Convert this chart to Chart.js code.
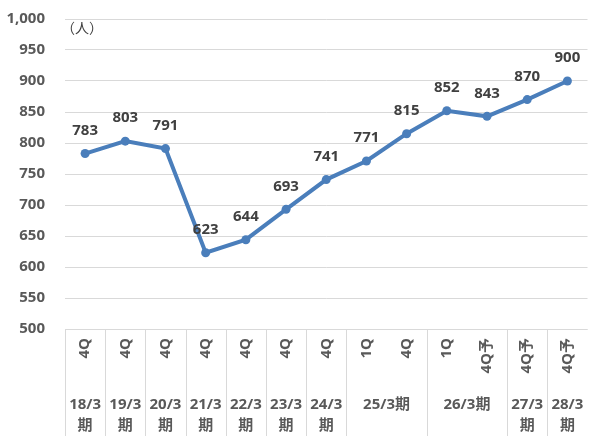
<!DOCTYPE html>
<html>
<head>
<meta charset="utf-8">
<script src="https://cdn.jsdelivr.net/npm/chart.js@4/dist/chart.umd.min.js"></script>
<style>
html, body { margin: 0; padding: 0; background: #fff; }
</style>
</head>
<body>
<canvas id="lineChart" width="592" height="436"></canvas>
<script>
const quarters = ['4Q', '4Q', '4Q', '4Q', '4Q', '4Q', '4Q', '1Q', '4Q', '1Q', '4Q予', '4Q予', '4Q予'];
const periods = ['18/3期', '19/3期', '20/3期', '21/3期', '22/3期', '23/3期', '24/3期', '25/3期', '26/3期', '27/3期', '28/3期'];
const periodSpans = [1, 1, 1, 1, 1, 1, 1, 2, 2, 1, 1];
const staffCounts = [783, 803, 791, 623, 644, 693, 741, 771, 815, 852, 843, 870, 900];

const lineChartOne = document.querySelector('#lineChart').getContext('2d');
const fontFamily = '"Open Sans", "Noto Sans CJK JP", sans-serif';
const lineBlue = '#4A7EBB';
const gridGray = '#d9d9d9';

// value labels above each point
const valueLabels = {
    id: 'valueLabels',
    afterDatasetsDraw(chart) {
        const ctx = chart.ctx;
        const meta = chart.getDatasetMeta(0);
        ctx.save();
        ctx.font = 'bold 15px ' + fontFamily;
        ctx.fillStyle = '#404040';
        ctx.textAlign = 'center';
        ctx.textBaseline = 'middle';
        meta.data.forEach((pt, i) => {
            ctx.fillText(chart.data.datasets[0].data[i], pt.x, pt.y - 23);
        });
        // unit label
        ctx.font = '14px ' + fontFamily;
        ctx.textAlign = 'left';
        ctx.fillText('（人）', chart.chartArea.left - 4, chart.chartArea.top + 10);
        ctx.restore();
    }
};

// two-row category axis: rotated quarters, then fiscal periods
const periodAxis = {
    id: 'periodAxis',
    afterDraw(chart) {
        const ctx = chart.ctx;
        const x = chart.scales.x;
        const area = chart.chartArea;
        const half = (x.getPixelForValue(1) - x.getPixelForValue(0)) / 2;
        const top = area.bottom;
        const bottom = chart.height;

        ctx.save();
        ctx.strokeStyle = gridGray;
        ctx.lineWidth = 1;
        ctx.beginPath();
        ctx.moveTo(area.left, top + 0.5);
        ctx.lineTo(area.right, top + 0.5);
        ctx.stroke();

        ctx.fillStyle = '#595959';
        ctx.font = 'bold 15px ' + fontFamily;
        quarters.forEach((q, i) => {
            const px = x.getPixelForValue(i);
            ctx.save();
            ctx.translate(px, top + 9);
            ctx.rotate(-Math.PI / 2);
            ctx.textAlign = 'right';
            ctx.textBaseline = 'middle';
            ctx.fillText(q, 0, 0);
            ctx.restore();
        });

        let start = 0;
        ctx.textAlign = 'center';
        ctx.textBaseline = 'middle';
        periods.forEach((p, j) => {
            const span = periodSpans[j];
            const l = x.getPixelForValue(start) - half;
            const r = x.getPixelForValue(start + span - 1) + half;
            ctx.beginPath();
            ctx.moveTo(Math.round(l) + 0.5, top);
            ctx.lineTo(Math.round(l) + 0.5, bottom);
            ctx.stroke();
            const cx = (l + r) / 2;
            if (span === 1) {
                ctx.fillText(p.slice(0, -1), cx, 405);
                ctx.fillText(p.slice(-1), cx, 426);
            } else {
                ctx.fillText(p, cx, 405);
            }
            start += span;
        });
        ctx.restore();
    }
};

let lineChart = new Chart(lineChartOne, {
    type: 'line',
    data: {
        labels: quarters.map((q, i) => i),
        datasets: [{
            label: '人数',
            data: staffCounts,
            borderColor: lineBlue,
            backgroundColor: lineBlue,
            borderWidth: 4,
            pointRadius: 4.5,
            pointHoverRadius: 4.5,
            pointBackgroundColor: lineBlue,
            pointBorderWidth: 0,
            tension: 0
        }]
    },
    options: {
        responsive: false,
        animation: false,
        devicePixelRatio: 1,
        layout: {
            padding: {
                top: 19,
                bottom: 107,
                left: 0,
                right: 0
            }
        },
        plugins: {
            legend: { display: false },
            tooltip: { enabled: false }
        },
        scales: {
            x: {
                display: false,
                offset: true
            },
            y: {
                min: 500,
                max: 1000,
                border: { display: false },
                grid: {
                    color: gridGray,
                    drawTicks: false
                },
                ticks: {
                    stepSize: 50,
                    padding: 20,
                    color: '#595959',
                    font: { family: fontFamily, size: 15, weight: 'bold' },
                    callback: (v) => v.toLocaleString('en-US')
                },
                afterFit: (scale) => {
                    scale.width = 65;
                    scale.paddingTop = 0;
                    scale.paddingBottom = 0;
                }
            }
        }
    },
    plugins: [valueLabels, periodAxis]
});
</script>
</body>
</html>
